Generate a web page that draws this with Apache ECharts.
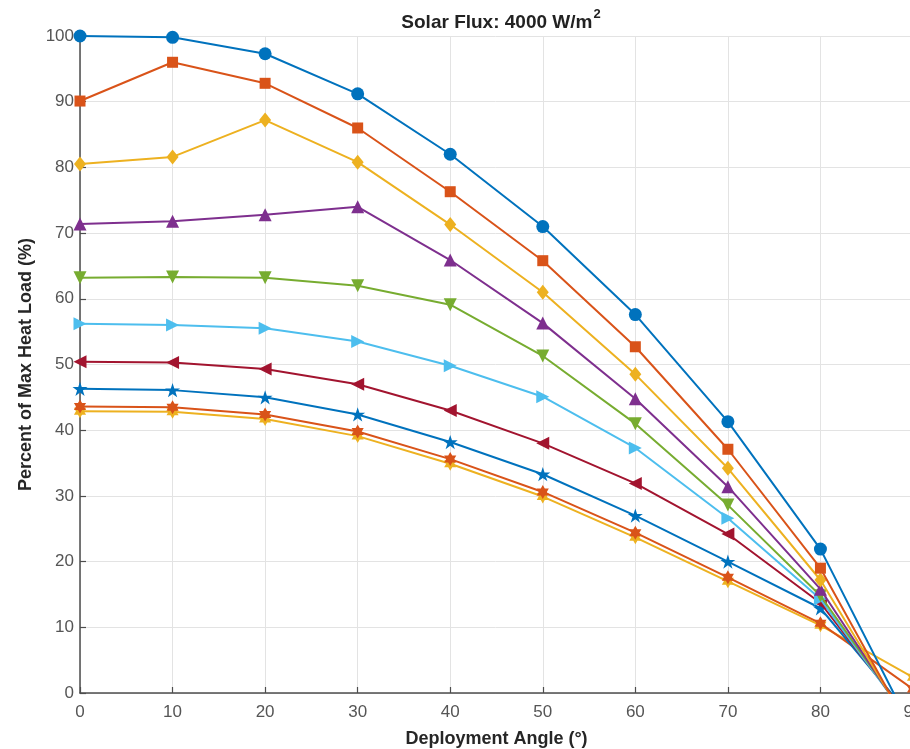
<!DOCTYPE html>
<html>
<head>
<meta charset="utf-8">
<script src="https://cdn.jsdelivr.net/npm/echarts@6/dist/echarts.min.js"></script>
<style>
html,body{margin:0;padding:0;background:#fff;overflow:hidden;}
#chart{width:910px;height:749px;}
</style>
</head>
<body>
<div id="chart"></div>
<script>
// Deployment angle (degrees)
var angles = [0, 10, 20, 30, 40, 50, 60, 70, 80, 90];
var xTicks = [0, 10, 20, 30, 40, 50, 60, 70, 80, 90];
var yTicks = [0, 10, 20, 30, 40, 50, 60, 70, 80, 90, 100];

// Percent of max heat load for each curve
var series1 = [100, 99.8, 97.3, 91.2, 82.0, 71.0, 57.6, 41.3, 21.9, -5.8];
var series2 = [90.1, 96.0, 92.8, 86.0, 76.3, 65.8, 52.7, 37.1, 19.0, -6.5];
var series3 = [80.5, 81.6, 87.2, 80.8, 71.3, 61.0, 48.5, 34.2, 17.2, -6.0];
var series4 = [71.4, 71.8, 72.8, 74.0, 65.9, 56.3, 44.8, 31.4, 15.8, -5.5];
var series5 = [63.2, 63.3, 63.2, 62.0, 59.1, 51.3, 41.0, 28.6, 14.8, -5.0];
var series6 = [56.2, 56.0, 55.5, 53.5, 49.8, 45.1, 37.3, 26.6, 14.3, -5.0];
var series7 = [50.4, 50.3, 49.3, 47.0, 43.0, 38.0, 31.9, 24.2, 13.7, -4.5];
var series8 = [46.3, 46.1, 45.0, 42.4, 38.2, 33.3, 27.0, 20.0, 12.9, -4.0];
var series9 = [43.6, 43.5, 42.4, 39.8, 35.6, 30.6, 24.4, 17.6, 10.6, 0.6];
var series10 = [42.9, 42.8, 41.7, 39.1, 34.9, 29.9, 23.7, 17.0, 10.3, 2.4];

var allSeries = [series1, series2, series3, series4, series5, series6, series7, series8, series9, series10];

var colors = ['#0072BD', '#D95319', '#EDB120', '#7E2F8E', '#77AC30', '#4DBEEE', '#A2142F', '#0072BD', '#D95319', '#EDB120'];

var pentagram = 'path://M50,0L61.2,34.5L97.6,34.5L68.2,55.9L79.4,90.5L50,69.1L20.6,90.5L31.8,55.9L2.4,34.5L38.8,34.5Z';
var hexagram = 'path://M50,0L64.4,25L93.3,25L78.9,50L93.3,75L64.4,75L50,100L35.6,75L6.7,75L21.1,50L6.7,25L35.6,25Z';

var symbols = [
  {s:'circle', size:13, rot:0},
  {s:'rect', size:11, rot:0},
  {s:'diamond', size:[12,15], rot:0},
  {s:'triangle', size:13, rot:0},
  {s:'triangle', size:13, rot:180},
  {s:'triangle', size:13, rot:-90},
  {s:'triangle', size:13, rot:90},
  {s:pentagram, size:15, rot:0},
  {s:hexagram, size:14, rot:0},
  {s:hexagram, size:14, rot:0}
];

var font = '"Liberation Sans", Arial, Helvetica, sans-serif';

var seriesList = allSeries.map(function (vals, i) {
  return {
    type: 'line',
    data: angles.map(function (a, j) { return [a, vals[j]]; }),
    symbol: symbols[i].s,
    symbolSize: symbols[i].size,
    symbolRotate: symbols[i].rot,
    symbolKeepAspect: true,
    showAllSymbol: true,
    clip: true,
    z: 10 - i,
    lineStyle: {color: colors[i], width: 2},
    itemStyle: {color: colors[i], borderWidth: 0},
    emphasis: {disabled: true}
  };
});

var chart = echarts.init(document.getElementById('chart'), null, {renderer: 'canvas'});
chart.setOption({
  animation: false,
  backgroundColor: '#ffffff',
  title: {
    text: '{a|Solar Flux: 4000 W/m}{b|2}',
    left: 496,
    textAlign: 'center',
    top: 2,
    textStyle: {
      rich: {
        a: {fontFamily: font, fontWeight: 'bold', fontSize: 19, color: '#222', padding: [6, 0, 0, 0]},
        b: {fontFamily: font, fontWeight: 'bold', fontSize: 13, color: '#222', padding: [0, 0, 10, 1]}
      }
    }
  },
  grid: {left: 80, top: 36, bottom: 56, right: -3, containLabel: false, outerBoundsMode: 'none'},
  xAxis: {
    type: 'value',
    min: xTicks[0],
    max: xTicks[xTicks.length - 1],
    interval: 10,
    name: 'Deployment Angle (°)',
    nameLocation: 'middle',
    nameGap: 37,
    nameTextStyle: {fontFamily: font, fontWeight: 'bold', fontSize: 18, color: '#262626'},
    axisLine: {show: true, onZero: false, lineStyle: {color: '#4d4d4d', width: 1.5}},
    axisTick: {show: true, inside: true, length: 6, lineStyle: {color: '#4d4d4d', width: 1.2}},
    axisLabel: {fontFamily: font, fontSize: 17, color: '#555', margin: 11},
    splitLine: {show: true, lineStyle: {color: '#e3e3e3', width: 1}}
  },
  yAxis: {
    type: 'value',
    min: yTicks[0],
    max: yTicks[yTicks.length - 1],
    interval: 10,
    name: 'Percent of Max Heat Load (%)',
    nameLocation: 'middle',
    nameGap: 42,
    nameTextStyle: {fontFamily: font, fontWeight: 'bold', fontSize: 18, color: '#262626'},
    axisLine: {show: true, onZero: false, lineStyle: {color: '#4d4d4d', width: 1.5}},
    axisTick: {show: true, inside: true, length: 6, lineStyle: {color: '#4d4d4d', width: 1.2}},
    axisLabel: {fontFamily: font, fontSize: 17, color: '#555', margin: 6},
    splitLine: {show: true, lineStyle: {color: '#e3e3e3', width: 1}}
  },
  series: seriesList
});
</script>
</body>
</html>
